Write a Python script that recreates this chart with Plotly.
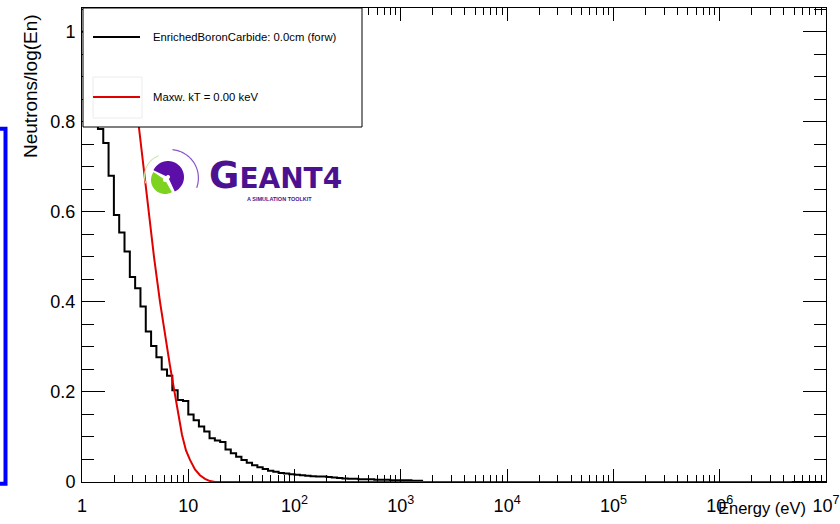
import numpy as np
import plotly.graph_objects as go

# ---------------- data ----------------
# histogram: 20 log-bins per decade from 1 eV to 1e7 eV
bins_per_decade = 20
log_e_min, log_e_max = 0, 7
hist_values = [
    1.000, 0.920, 0.850, 0.784, 0.753, 0.680, 0.593, 0.554, 0.512, 0.455,
    0.430, 0.390, 0.334, 0.302, 0.277, 0.250, 0.236, 0.204, 0.182, 0.180,
    0.150, 0.137, 0.123, 0.112, 0.097, 0.092, 0.089, 0.072, 0.064, 0.056,
    0.049, 0.043, 0.037, 0.033, 0.029, 0.025, 0.023, 0.020, 0.019, 0.017,
    0.016, 0.015, 0.014, 0.013, 0.012, 0.012, 0.011, 0.010, 0.009, 0.008,
    0.007, 0.007, 0.006, 0.006, 0.006, 0.005, 0.005, 0.005, 0.004, 0.004,
    0.004, 0.004, 0.003, 0.003, 0.0, 0.0, 0.0, 0.0, 0.0, 0.0,
    0.0, 0.0, 0.0, 0.0, 0.0, 0.0, 0.0, 0.0, 0.0, 0.0,
    0.0, 0.0, 0.0, 0.0, 0.0, 0.0, 0.0, 0.0, 0.0, 0.0,
    0.0, 0.0, 0.0, 0.0, 0.0, 0.0, 0.0, 0.0, 0.0, 0.0,
    0.0, 0.0, 0.0, 0.0, 0.0, 0.0, 0.0, 0.0, 0.0, 0.0,
    0.0, 0.0, 0.0, 0.0, 0.0, 0.0, 0.0, 0.0, 0.0, 0.0,
    0.0, 0.0, 0.0, 0.0, 0.0, 0.0, 0.0, 0.0, 0.0, 0.0,
    0.0, 0.0, 0.0, 0.0, 0.0, 0.0, 0.0, 0.0, 0.0, 0.0,
]
hist_name = "EnrichedBoronCarbide: 0.0cm (forw)"

# Maxwellian curve
maxw_energy = [2.28, 2.59, 2.74, 3.385, 4.205, 4.757, 5.418, 6.037, 6.727, 7.383,
               8.0, 8.724, 9.515, 10.38, 11.56, 12.88, 14.36, 16.0, 17.84, 100.0, 4.75e6]
maxw_values = [1.20, 1.06, 1.00, 0.80, 0.60, 0.50, 0.40, 0.325, 0.258, 0.203,
               0.155, 0.105, 0.070, 0.049, 0.028, 0.015, 0.007, 0.002, 0.0, 0.0, 0.0]
maxw_name = "Maxw. kT = 0.00 keV"

x_tick_vals = [1, 10, 1e2, 1e3, 1e4, 1e5, 1e6, 1e7]
x_tick_text = ["1", "10", "10<sup>2</sup>", "10<sup>3</sup>", "10<sup>4</sup>",
               "10<sup>5</sup>", "10<sup>6</sup>", "10<sup>7</sup>"]
x_minor_vals = [m * 10 ** d for d in range(7) for m in range(2, 10)]

# ---------------- layout geometry ----------------
W, H = 840, 524
L, R, T, B = 82, 14, 8, 42
PW, PH = W - L - R, H - T - B


def px(x):
    return (x - L) / PW


def py(y):
    return (H - B - y) / PH


FONT = "Liberation Sans, Arial, Helvetica, sans-serif"

edges = np.logspace(log_e_min, log_e_max, (log_e_max - log_e_min) * bins_per_decade + 1)
hx = list(edges)
hy = list(hist_values) + [hist_values[-1]]

fig = go.Figure()
fig.add_trace(go.Scatter(x=hx, y=hy, mode="lines", line=dict(color="black", width=2, shape="hv"),
                         name=hist_name, showlegend=False))
fig.add_trace(go.Scatter(x=maxw_energy, y=maxw_values, mode="lines",
                         line=dict(color="#e00000", width=2), name=maxw_name, showlegend=False))

shapes = []
annotations = []

# legend box (drawn manually, ROOT style)
shapes.append(dict(type="rect", xref="paper", yref="paper", x0=px(83), x1=px(362), y0=py(127), y1=py(8),
                   fillcolor="white", line=dict(color="black", width=1), layer="above"))
shapes.append(dict(type="rect", xref="paper", yref="paper", x0=px(93), x1=px(142), y0=py(118), y1=py(77),
                   fillcolor="rgba(0,0,0,0)", line=dict(color="#ececec", width=1), layer="above"))
shapes.append(dict(type="line", xref="paper", yref="paper", x0=px(93), x1=px(140), y0=py(37), y1=py(37),
                   line=dict(color="black", width=2), layer="above"))
shapes.append(dict(type="line", xref="paper", yref="paper", x0=px(93), x1=px(140), y0=py(97), y1=py(97),
                   line=dict(color="#e00000", width=2), layer="above"))
annotations.append(dict(text=hist_name, xref="paper", yref="paper", x=px(151), y=py(37),
                        xanchor="left", yanchor="middle", showarrow=False,
                        font=dict(family=FONT, size=11.3, color="black")))
annotations.append(dict(text=maxw_name, xref="paper", yref="paper", x=px(151), y=py(97),
                        xanchor="left", yanchor="middle", showarrow=False,
                        font=dict(family=FONT, size=11.3, color="black")))

# blue frame at the left edge
shapes.append(dict(type="rect", xref="paper", yref="paper", x0=px(-30), x1=px(5.5), y0=py(483.7), y1=py(128.7),
                   line=dict(color="#0000ff", width=4), fillcolor="rgba(0,0,0,0)", layer="above"))


# Geant4 logo (approximation)
def sector(cx, cy, r_out, r_in, a0, a1, n=40):
    a = np.radians(np.linspace(a0, a1, n))
    pts = [(cx + r_out * np.cos(t), cy + r_out * np.sin(t)) for t in a]
    pts += [(cx + r_in * np.cos(t), cy + r_in * np.sin(t)) for t in a[::-1]]
    s = "M " + " L ".join(f"{px(x):.5f},{py(y):.5f}" for x, y in pts) + " Z"
    return s


shapes.append(dict(type="path", xref="paper", yref="paper", path=sector(165, 180, 14, 2, 60, 215),
                   fillcolor="#7ed321", line=dict(width=0), layer="above"))
shapes.append(dict(type="path", xref="paper", yref="paper", path=sector(168, 177, 16, 2, 205, 425),
                   fillcolor="#5b0fa8", line=dict(width=0), layer="above"))
shapes.append(dict(type="path", xref="paper", yref="paper", path=sector(170, 178, 29, 27.8, 275, 380),
                   fillcolor="#8a55c8", line=dict(width=0), layer="above"))
shapes.append(dict(type="path", xref="paper", yref="paper", path=sector(166, 176, 22, 21, 160, 250),
                   fillcolor="#c8e6a0", line=dict(width=0), layer="above"))

annotations.append(dict(text="<span style='font-size:37px'>G</span>EANT4", xref="paper", yref="paper",
                        x=px(275), y=py(175), xanchor="center", yanchor="middle", showarrow=False,
                        font=dict(family="DejaVu Sans", size=28, color="#4b1190", weight="bold")))
annotations.append(dict(text="A SIMULATION TOOLKIT", xref="paper", yref="paper",
                        x=px(279), y=py(199), xanchor="center", yanchor="middle", showarrow=False,
                        font=dict(family=FONT, size=5.5, color="#4b1190", weight="bold")))

# axis titles (ROOT style: at the end of the axes)
annotations.append(dict(text="Energy (eV)", xref="paper", yref="paper", x=px(808), y=py(508),
                        xanchor="right", yanchor="middle", showarrow=False,
                        font=dict(family=FONT, size=16.5, color="black")))
annotations.append(dict(text="Neutrons/log(En)", xref="paper", yref="paper", x=px(30), y=py(12),
                        xanchor="center", yanchor="top", textangle=-90, showarrow=False,
                        font=dict(family=FONT, size=19, color="black")))

fig.update_layout(
    width=W, height=H,
    margin=dict(l=L, r=R, t=T, b=B, pad=0, autoexpand=False),
    paper_bgcolor="white", plot_bgcolor="white",
    shapes=shapes, annotations=annotations,
    showlegend=False,
    xaxis=dict(type="log", range=[log_e_min, log_e_max], tickvals=x_tick_vals, ticktext=x_tick_text,
               ticks="inside", ticklen=13, tickwidth=1, tickcolor="black",
               showline=True, linecolor="black", linewidth=1, mirror="ticks",
               showgrid=False, zeroline=False, automargin=False,
               minor=dict(tickvals=x_minor_vals, ticks="inside", ticklen=7, tickwidth=1,
                          tickcolor="black", showgrid=False),
               tickfont=dict(family=FONT, size=18, color="black"), ticklabelstandoff=7),
    yaxis=dict(range=[0, 1.0526], tick0=0, dtick=0.2,
               ticks="inside", ticklen=23, tickwidth=1, tickcolor="black",
               showline=True, linecolor="black", linewidth=1, mirror="ticks",
               showgrid=False, zeroline=False, automargin=False,
               minor=dict(dtick=0.05, ticks="inside", ticklen=12, tickwidth=1,
                          tickcolor="black", showgrid=False),
               tickfont=dict(family=FONT, size=18, color="black"), ticklabelstandoff=2),
)

fig.write_html("out.html")
